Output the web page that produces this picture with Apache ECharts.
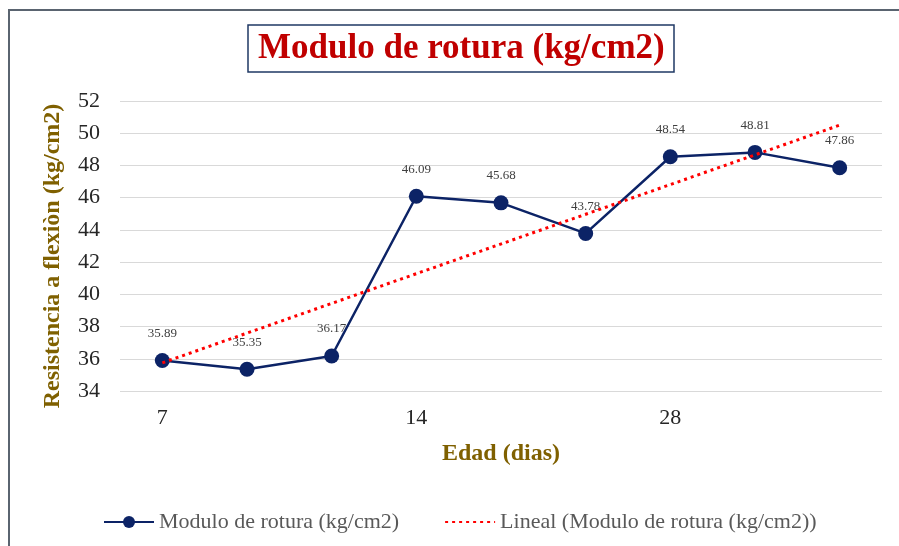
<!DOCTYPE html>
<html>
<head>
<meta charset="utf-8">
<script src="https://cdn.jsdelivr.net/npm/echarts@6/dist/echarts.min.js"></script>
<style>
  html, body { margin: 0; padding: 0; background: #fff; }
  #chart { width: 899px; height: 546px; }
</style>
</head>
<body>
<div id="chart"></div>
<script>
// 数据
const edad = ['7', '', '', '14', '', '', '28', '', ''];
const modulo = [35.89, 35.35, 36.17, 46.09, 45.68, 43.78, 48.54, 48.81, 47.86];
// tendencia lineal (solo extremos)
const lineal = [35.75, null, null, null, null, null, null, null, 50.5];
const yTicks = [34, 52, 2]; // min, max, intervalo

const serif = '"Liberation Serif", "Times New Roman", serif';

const chart = echarts.init(document.querySelector('#chart'));
chart.setOption({
  animation: false,
  backgroundColor: '#fff',
  title: {
    text: 'Modulo de rotura (kg/cm2)',
    left: 248,
    top: 25,
    padding: [6, 10, 6, 10],
    borderColor: '#1f3864',
    borderWidth: 1.5,
    textStyle: {
      fontFamily: serif,
      fontSize: 35,
      fontWeight: 'bold',
      color: '#c00000'
    }
  },
  graphic: [
    {
      type: 'rect',
      shape: { x: 9, y: 10, width: 1000, height: 1000 },
      style: { fill: 'none', stroke: '#5a6470', lineWidth: 2 },
      silent: true
    }
  ],
  legend: {
    left: 98,
    top: 506,
    itemGap: 45,
    itemWidth: 50,
    itemHeight: 15,
    textStyle: { fontFamily: serif, fontSize: 22, color: '#595959' },
    data: [
      'Modulo de rotura (kg/cm2)',
      {
        name: 'Lineal (Modulo de rotura (kg/cm2))',
        // sin marcador en la leyenda, solo la línea punteada
        itemStyle: { color: 'rgba(0,0,0,0)', borderColor: 'rgba(0,0,0,0)', borderWidth: 0 }
      }
    ]
  },
  grid: {
    left: 120,
    right: 17,
    top: 101,
    bottom: 155
  },
  xAxis: {
    type: 'category',
    data: edad,
    name: 'Edad (dias)',
    nameLocation: 'middle',
    nameGap: 51,
    nameTextStyle: {
      fontFamily: serif,
      fontSize: 24,
      fontWeight: 'bold',
      color: '#7f6000'
    },
    axisLine: { show: false },
    axisTick: { show: false },
    axisLabel: {
      interval: 0,
      margin: 16,
      fontFamily: serif,
      fontSize: 22,
      color: '#262626'
    }
  },
  yAxis: {
    type: 'value',
    min: yTicks[0],
    max: yTicks[1],
    interval: yTicks[2],
    name: 'Resistencia a flexiòn (kg/cm2)',
    nameLocation: 'middle',
    nameGap: 55,
    nameTextStyle: {
      fontFamily: serif,
      fontSize: 24,
      fontWeight: 'bold',
      color: '#7f6000',
      padding: [0, 20, 0, 0]
    },
    axisLine: { show: false },
    axisTick: { show: false },
    axisLabel: {
      margin: 20,
      fontFamily: serif,
      fontSize: 22,
      color: '#262626'
    },
    splitLine: { lineStyle: { color: '#d9d9d9', width: 1 } }
  },
  series: [
    {
      name: 'Modulo de rotura (kg/cm2)',
      type: 'line',
      data: modulo,
      symbol: 'circle',
      symbolSize: 15,
      itemStyle: { color: '#0c2366' },
      lineStyle: { color: '#0c2366', width: 2.5 },
      label: {
        show: true,
        position: 'top',
        distance: 13,
        fontFamily: serif,
        fontSize: 13,
        color: '#404040',
        formatter: p => p.value.toFixed(2)
      },
      z: 2
    },
    {
      name: 'Lineal (Modulo de rotura (kg/cm2))',
      type: 'line',
      data: lineal,
      connectNulls: true,
      symbol: 'none',
      itemStyle: { color: '#ff0000' },
      lineStyle: { color: '#ff0000', width: 3, type: [3, 4] },
      z: 3
    }
  ]
});
</script>
</body>
</html>
